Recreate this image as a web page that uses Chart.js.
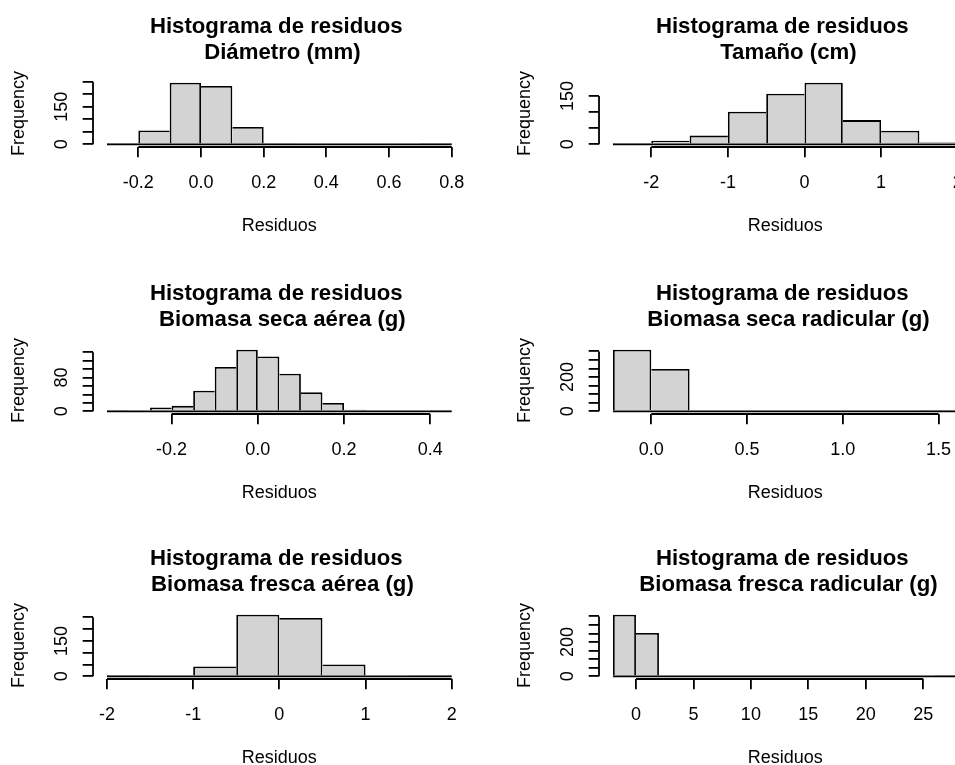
<!DOCTYPE html>
<html lang="es">
<head>
<meta charset="utf-8">
<title>Histogramas de residuos</title>
<script src="https://cdn.jsdelivr.net/npm/chart.js@4.4.1/dist/chart.umd.min.js"></script>
<style>
  html, body { margin: 0; padding: 0; background: #ffffff; }
  body { width: 955px; height: 765px; overflow: hidden; position: relative; }
  canvas { position: absolute; }
</style>
</head>
<body>
<canvas id="hDiametro" width="507" height="266" style="left:0px;top:0px"></canvas>
<canvas id="hTamano" width="507" height="266" style="left:506px;top:0px"></canvas>
<canvas id="hSecaAerea" width="507" height="266" style="left:0px;top:267px"></canvas>
<canvas id="hSecaRadicular" width="507" height="266" style="left:506px;top:267px"></canvas>
<canvas id="hFrescaAerea" width="507" height="266" style="left:0px;top:532px"></canvas>
<canvas id="hFrescaRadicular" width="507" height="266" style="left:506px;top:532px"></canvas>
<script>
// ---- Residual histograms: bin breaks, bin counts and axis ticks per variable ----

// Diámetro (mm)
const diametroBreaks = [-0.3, -0.2, -0.1, 0.0, 0.1, 0.2, 0.3, 0.4, 0.5, 0.6, 0.7, 0.8];
const diametroCounts = [1, 55, 246, 233, 69, 4, 0, 0, 0, 0, 1];
const diametroXTicks = ['-0.2', '0.0', '0.2', '0.4', '0.6', '0.8'];
const diametroYTicks = [0, 50, 100, 150, 200, 250];
const diametroYLabels = [0, 150];

// Tamaño (cm)
const tamanoBreaks = [-2.5, -2.0, -1.5, -1.0, -0.5, 0.0, 0.5, 1.0, 1.5, 2.0];
const tamanoCounts = [1, 11, 27, 101, 157, 191, 75, 42, 6];
const tamanoXTicks = ['-2', '-1', '0', '1', '2'];
const tamanoYTicks = [0, 50, 100, 150];
const tamanoYLabels = [0, 150];

// Biomasa seca aérea (g)
const secaAereaBreaks = [-0.35, -0.30, -0.25, -0.20, -0.15, -0.10, -0.05, 0.00, 0.05,
                         0.10, 0.15, 0.20, 0.25, 0.30, 0.35, 0.40, 0.45];
const secaAereaCounts = [1, 0, 9, 13, 49, 105, 146, 130, 89, 45, 20, 4, 0, 0, 0, 1];
const secaAereaXTicks = ['-0.2', '0.0', '0.2', '0.4'];
const secaAereaYTicks = [0, 20, 40, 60, 80, 100, 120, 140];
const secaAereaYLabels = [0, 80];

// Biomasa seca radicular (g)
const secaRadicularBreaks = [-0.2, 0.0, 0.2, 0.4, 0.6, 0.8, 1.0, 1.2, 1.4, 1.6];
const secaRadicularCounts = [360, 247, 0, 0, 0, 0, 0, 0, 1];
const secaRadicularXTicks = ['0.0', '0.5', '1.0', '1.5'];
const secaRadicularYTicks = [0, 50, 100, 150, 200, 250, 300, 350];
const secaRadicularYLabels = [0, 200];

// Biomasa fresca aérea (g)
const frescaAereaBreaks = [-2.0, -1.5, -1.0, -0.5, 0.0, 0.5, 1.0, 1.5, 2.0];
const frescaAereaCounts = [1, 4, 42, 261, 247, 50, 4, 1];
const frescaAereaXTicks = ['-2', '-1', '0', '1', '2'];
const frescaAereaYTicks = [0, 50, 100, 150, 200, 250];
const frescaAereaYLabels = [0, 150];

// Biomasa fresca radicular (g)
const frescaRadicularBreaks = [-2, 0, 2, 4, 6, 8, 10, 12, 14, 16, 18, 20, 22, 24, 26, 28];
const frescaRadicularCounts = [360, 253, 0, 0, 0, 0, 0, 0, 0, 0, 0, 0, 0, 0, 1];
const frescaRadicularXTicks = ['0', '5', '10', '15', '20', '25'];
const frescaRadicularYTicks = [0, 50, 100, 150, 200, 250, 300, 350];
const frescaRadicularYLabels = [0, 200];

// ---- Styling ----
const FONT = "'Liberation Sans', Arial, Helvetica, sans-serif";
const INK = '#000000';
const FILL = '#d3d3d3';
const LINE = 1.8;
const TICK_LEN = 10.5;
const AXIS_FONT = { family: FONT, size: 18, lineHeight: 1.2 };

const panels = [
  { id: 'hDiametro', name: 'Diámetro (mm)', breaks: diametroBreaks, counts: diametroCounts,
    xTicks: diametroXTicks, yTicks: diametroYTicks, yLabels: diametroYLabels },
  { id: 'hTamano', name: 'Tamaño (cm)', breaks: tamanoBreaks, counts: tamanoCounts,
    xTicks: tamanoXTicks, yTicks: tamanoYTicks, yLabels: tamanoYLabels },
  { id: 'hSecaAerea', name: 'Biomasa seca aérea (g)', breaks: secaAereaBreaks, counts: secaAereaCounts,
    xTicks: secaAereaXTicks, yTicks: secaAereaYTicks, yLabels: secaAereaYLabels },
  { id: 'hSecaRadicular', name: 'Biomasa seca radicular (g)', breaks: secaRadicularBreaks, counts: secaRadicularCounts,
    xTicks: secaRadicularXTicks, yTicks: secaRadicularYTicks, yLabels: secaRadicularYLabels },
  { id: 'hFrescaAerea', name: 'Biomasa fresca aérea (g)', breaks: frescaAereaBreaks, counts: frescaAereaCounts,
    xTicks: frescaAereaXTicks, yTicks: frescaAereaYTicks, yLabels: frescaAereaYLabels },
  { id: 'hFrescaRadicular', name: 'Biomasa fresca radicular (g)', breaks: frescaRadicularBreaks, counts: frescaRadicularCounts,
    xTicks: frescaRadicularXTicks, yTicks: frescaRadicularYTicks, yLabels: frescaRadicularYLabels }
];

// width of the widest y label, used to centre the rotated labels at a fixed distance
const measureCtx = document.createElement('canvas').getContext('2d');
function widestLabel(labels) {
  measureCtx.font = `18px ${FONT}`;
  return Math.max(...labels.map(l => measureCtx.measureText(String(l)).width));
}

// each shared edge is outlined once, by the taller of the two neighbouring bins
function edgeWidths(counts, ctx) {
  if (ctx.type !== 'data') return LINE;
  const i = ctx.dataIndex;
  const c = counts[i];
  const prev = i > 0 ? counts[i - 1] : 0;
  const next = i < counts.length - 1 ? counts[i + 1] : 0;
  return { top: LINE, bottom: 0, left: prev < c ? LINE : 0, right: next <= c ? LINE : 0 };
}

// axis lines that run only from the first to the last tick
const tickSpanAxes = {
  id: 'tickSpanAxes',
  afterDraw(chart) {
    const { ctx, chartArea, scales: { x, y } } = chart;
    const xt = x.ticks, yt = y.ticks;
    ctx.save();
    ctx.strokeStyle = INK;
    ctx.lineWidth = LINE;
    ctx.beginPath();
    const yb = Math.round(chartArea.bottom);
    ctx.moveTo(x.getPixelForValue(xt[0].value), yb);
    ctx.lineTo(x.getPixelForValue(xt[xt.length - 1].value), yb);
    const xl = Math.round(chartArea.left);
    ctx.moveTo(xl, y.getPixelForValue(yt[0].value));
    ctx.lineTo(xl, y.getPixelForValue(yt[yt.length - 1].value));
    ctx.stroke();
    ctx.restore();
  }
};

function drawHistogram(p) {
  const n = p.counts.length;
  const first = p.breaks[0];
  const last = p.breaks[n];
  const span = last - first;
  const bins = p.counts.map((c, i) => ({ x: (p.breaks[i] + p.breaks[i + 1]) / 2, y: c }));
  const ymax = Math.max(...p.counts);
  const xTickValues = p.xTicks.map(Number);
  const yLabelPad = 20.7 - widestLabel(p.yLabels) / 2;

  new Chart(document.getElementById(p.id), {
    type: 'bar',
    data: {
      datasets: [
        {
          type: 'line',
          data: [{ x: first, y: 0 }, { x: last, y: 0 }],
          borderColor: INK,
          borderWidth: LINE,
          pointRadius: 0,
          tension: 0
        },
        {
          data: bins,
          backgroundColor: FILL,
          borderColor: INK,
          borderWidth: ctx => edgeWidths(p.counts, ctx),
          borderSkipped: false,
          inflateAmount: 0,
          barPercentage: 1,
          categoryPercentage: 1
        }
      ]
    },
    options: {
      responsive: false,
      animation: false,
      devicePixelRatio: 1,
      events: [],
      layout: { padding: { left: 0, top: 13.7, right: 41.5, bottom: 29.2 } },
      plugins: {
        legend: { display: false },
        tooltip: { enabled: false },
        title: {
          display: true,
          fullSize: false,
          text: ['Histograma de residuos ', ' ' + p.name],
          color: INK,
          font: { family: FONT, size: 22.2, weight: 'bold', lineHeight: 26 / 22.2 },
          padding: { top: 0, bottom: 14.5 }
        }
      },
      scales: {
        x: {
          type: 'linear',
          offset: false,
          min: first - 0.04 * span,
          max: last + 0.04 * span,
          afterBuildTicks: s => { s.ticks = xTickValues.map(v => ({ value: v })); },
          afterFit: s => { s.height = 90; },
          border: { display: false },
          grid: { offset: false, drawOnChartArea: false, drawTicks: true, tickLength: TICK_LEN, color: INK, lineWidth: LINE },
          ticks: {
            autoSkip: false, minRotation: 0, maxRotation: 0, padding: 14.6, color: INK, font: AXIS_FONT,
            callback: (v, i) => p.xTicks[i]
          },
          title: { display: true, text: 'Residuos', color: INK, font: AXIS_FONT, padding: { top: 0, bottom: 0.4 } }
        },
        y: {
          type: 'linear',
          min: -0.04 * ymax,
          max: 1.04 * ymax,
          afterBuildTicks: s => { s.ticks = p.yTicks.map(v => ({ value: v })); },
          afterFit: s => { s.width = 93.2; },
          border: { display: false },
          grid: { drawOnChartArea: false, drawTicks: true, tickLength: TICK_LEN, color: INK, lineWidth: LINE },
          ticks: {
            autoSkip: false, minRotation: 90, maxRotation: 90, crossAlign: 'center',
            padding: yLabelPad, color: INK, font: AXIS_FONT,
            callback: v => (p.yLabels.includes(v) ? String(v) : '')
          },
          title: { display: true, text: 'Frequency', color: INK, font: AXIS_FONT, padding: { top: 8, bottom: 0 } }
        }
      }
    },
    plugins: [tickSpanAxes]
  });
}

panels.forEach(drawHistogram);
</script>
</body>
</html>
